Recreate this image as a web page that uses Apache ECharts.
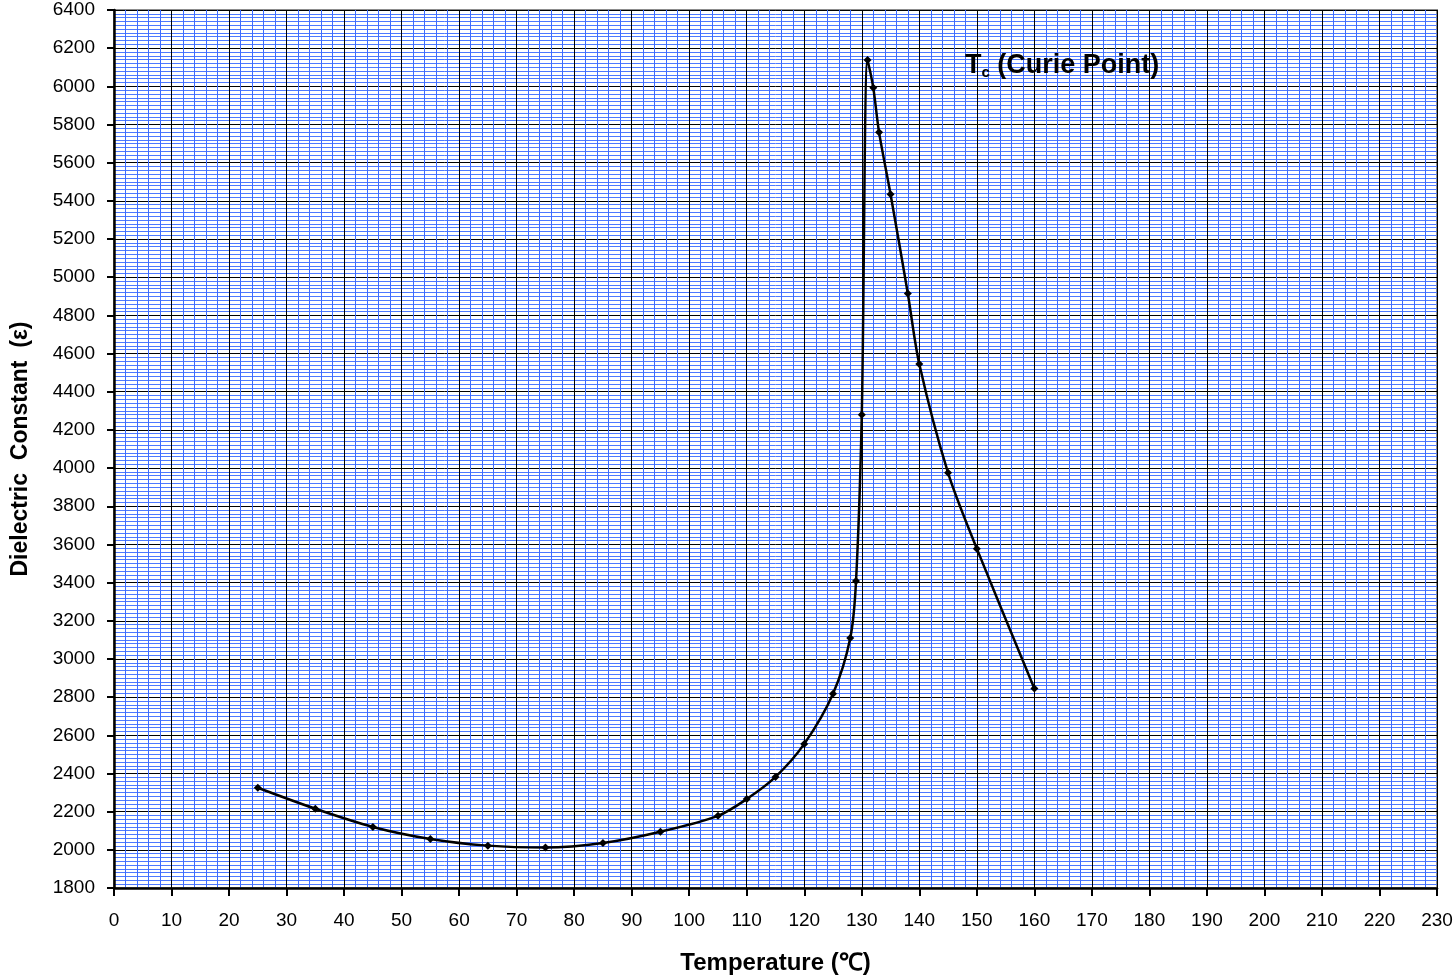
<!DOCTYPE html>
<html>
<head>
<meta charset="utf-8">
<script src="https://cdn.jsdelivr.net/npm/echarts@6/dist/echarts.min.js"></script>
<style>
  html, body { margin: 0; padding: 0; background: #fff; }
  #chart { width: 1454px; height: 977px; }
</style>
</head>
<body>
<div id="chart"></div>
<script>
// Temperature (°C) of each measured point
const temperatures = [25, 35, 45, 55, 65, 75, 85, 95, 105, 110, 115, 120, 125, 128, 129, 130, 131, 132, 133, 135, 138, 140, 145, 150, 160];
// Dielectric constant at each temperature
const dielectric = [2325, 2215, 2120, 2057, 2022, 2012, 2036, 2095, 2178, 2266, 2382, 2555, 2818, 3110, 3408, 4280, 6138, 5992, 5760, 5435, 4915, 4545, 3975, 3578, 2845];
// Axis ranges / tick steps
const xTicks = { min: 0, max: 230, step: 10 };
const yTicks = { min: 1800, max: 6400, step: 200 };
const xTitle = 'Temperature (\u2103)';
const yTitle = 'Dielectric  Constant  (\u03b5)';

const points = temperatures.map((t, i) => [t, dielectric[i]]);
const FONT = '"Liberation Sans", Arial, sans-serif';

const chart = echarts.init(document.getElementById('chart'), null, { renderer: 'canvas' });
chart.setOption({
  backgroundColor: '#fff',
  animation: false,
  grid: { left: 114, right: 17, top: 10, bottom: 89, show: true, borderColor: '#8c8c8c', borderWidth: 2, backgroundColor: 'transparent', containLabel: false, outerBoundsMode: 'none' },
  xAxis: {
    type: 'value', min: xTicks.min, max: xTicks.max, interval: xTicks.step,
    name: xTitle, nameLocation: 'middle', nameGap: 63,
    nameTextStyle: { fontFamily: FONT, fontWeight: 'bold', fontSize: 24, color: '#000' },
    axisLine: { show: true, onZero: false, lineStyle: { color: '#000', width: 2.5 } },
    axisTick: { show: true, length: 8, lineStyle: { color: '#000', width: 2 } },
    axisLabel: { fontFamily: FONT, fontSize: 19, color: '#000', margin: 23 },
    splitLine: { show: true, lineStyle: { color: '#000', width: 1 } },
    minorTick: { show: false, splitNumber: 5 },
    minorSplitLine: { show: true, lineStyle: { color: '#3d6bff', width: 1 } }
  },
  yAxis: {
    type: 'value', min: yTicks.min, max: yTicks.max, interval: yTicks.step,
    name: yTitle, nameLocation: 'middle', nameGap: 82,
    nameTextStyle: { fontFamily: FONT, fontWeight: 'bold', fontSize: 23, color: '#000' },
    axisLine: { show: true, onZero: false, lineStyle: { color: '#000', width: 2.5 } },
    axisTick: { show: true, length: 7, lineStyle: { color: '#000', width: 2 } },
    axisLabel: { fontFamily: FONT, fontSize: 19, color: '#000', margin: 19, formatter: v => String(v) },
    splitLine: { show: true, lineStyle: { color: '#000', width: 1 } },
    minorTick: { show: false, splitNumber: 10 },
    minorSplitLine: { show: true, lineStyle: { color: '#4d79ff', width: 1 } }
  },
  graphic: [{
    type: 'text', left: 965, top: 52, z: 100,
    style: {
      text: '{a|T}{b|c}{a| (Curie Point)}',
      rich: {
        a: { fontFamily: FONT, fontWeight: 'bold', fontSize: 27, fill: '#000', lineHeight: 30 },
        b: { fontFamily: FONT, fontWeight: 'bold', fontSize: 15, fill: '#000', verticalAlign: 'bottom', lineHeight: 30 }
      }
    }
  }],
  series: [{
    type: 'line',
    data: points,
    smooth: 0.3,
    symbol: 'diamond',
    symbolSize: 8,
    itemStyle: { color: '#000' },
    lineStyle: { color: '#000', width: 2.5 },
    z: 10
  }]
});
</script>
</body>
</html>
